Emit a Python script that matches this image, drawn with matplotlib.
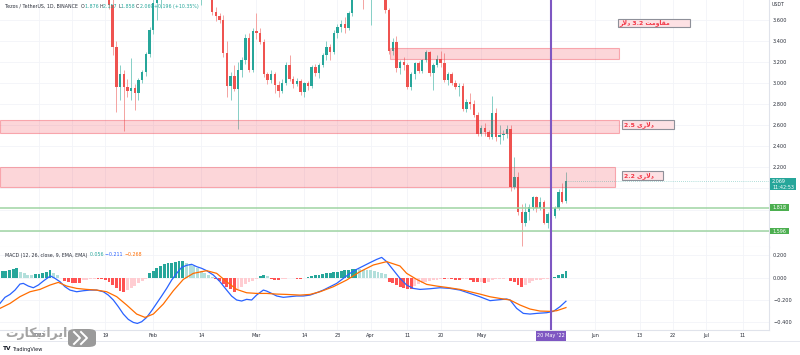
import matplotlib
matplotlib.use("Agg")
import matplotlib.pyplot as plt
from matplotlib.patches import Rectangle, FancyBboxPatch
from matplotlib.ticker import FuncFormatter
import numpy as np
import pandas as pd

plt.rcParams['font.family'] = ['DejaVu Sans']

# ---------------- data ----------------
base_date = pd.Timestamp("2022-01-01")
candle_start = "2022-01-20"
opens = [4.12, 3.74, 3.34, 2.96, 3.08, 2.96, 2.92, 2.95, 2.90, 3.03, 3.10, 3.27,
         3.50, 3.76, 3.93, 3.98, 4.30, 4.38, 4.45, 4.62, 4.40, 4.48, 4.15, 3.95, 3.98, 3.92,
         4.05, 4.25, 4.12, 3.67, 3.63, 3.60, 3.28, 2.97, 3.07, 2.94, 3.12, 3.22, 3.43, 3.12,
         3.49, 3.47, 3.39, 3.08, 3.03, 3.08, 2.98, 2.92, 3.00, 3.17, 3.04, 2.99, 3.02, 2.91,
         3.00, 2.97, 3.15, 3.09, 3.17, 3.26, 3.34, 3.29, 3.47, 3.53, 3.56, 3.52, 3.66, 3.95,
         4.20, 4.38, 4.30,
         4.05, 4.25, 4.30, 4.32, 4.10, 3.69, 3.30, 3.39, 3.14, 3.20, 3.17, 2.96, 3.08, 3.19,
         3.11, 3.22, 3.29, 3.09, 3.17, 3.23, 3.19, 3.03, 3.08, 3.00, 2.96, 2.97, 2.75, 2.82,
         2.80, 2.70,
         2.52, 2.57, 2.53, 2.49, 2.71, 2.49, 2.51, 2.52, 2.56, 2.01, 2.11, 1.78, 1.67, 1.78,
         1.82, 1.92, 1.81, 1.87, 1.675, 1.757, 1.738, 1.817, 1.969, 1.876]
highs = [4.22, 3.80, 3.40, 3.17, 3.12, 3.04, 3.24, 2.99, 3.05, 3.12, 3.29, 3.53,
         3.84, 4.02, 4.05, 4.35, 4.45, 4.50, 4.70, 4.68, 4.52, 4.60, 4.25, 4.05, 4.05, 4.10,
         4.30, 4.28, 4.18, 3.72, 3.66, 3.64, 3.40, 3.10, 3.17, 3.20, 3.25, 3.46, 3.47, 3.52,
         3.66, 3.52, 3.42, 3.10, 3.12, 3.10, 3.02, 3.04, 3.20, 3.26, 3.07, 3.05, 3.04, 3.01,
         3.02, 3.17, 3.18, 3.19, 3.28, 3.40, 3.37, 3.50, 3.56, 3.60, 3.62, 3.68, 3.98, 4.30,
         4.45, 4.50, 4.40,
         4.30, 4.45, 4.40, 4.35, 4.20, 3.71, 3.43, 3.44, 3.22, 3.25, 3.19, 3.10, 3.20, 3.21,
         3.23, 3.31, 3.30, 3.19, 3.26, 3.30, 3.28, 3.10, 3.10, 3.03, 3.00, 3.00, 2.85, 2.90,
         2.84, 2.72,
         2.60, 2.62, 2.55, 2.88, 2.76, 2.60, 2.55, 2.60, 2.60, 2.30, 2.16, 1.85, 1.86, 1.85,
         1.93, 1.93, 1.92, 1.89, 1.78, 1.82, 1.83, 1.99, 2.05, 2.157]
lows = [3.70, 3.26, 2.72, 2.84, 2.54, 2.87, 2.84, 2.74, 2.84, 3.00, 3.07, 3.25,
        3.46, 3.60, 3.71, 3.90, 4.20, 4.28, 4.40, 4.30, 4.32, 4.10, 3.88, 3.85, 3.86, 3.74,
        4.00, 4.02, 3.64, 3.59, 3.57, 3.25, 2.87, 2.84, 2.92, 2.56, 3.06, 3.18, 3.10, 3.10,
        3.42, 3.37, 3.06, 2.99, 3.00, 2.90, 2.87, 2.90, 2.98, 3.02, 2.95, 2.97, 2.89, 2.87,
        2.93, 2.95, 3.07, 3.05, 3.15, 3.22, 3.22, 3.27, 3.43, 3.48, 3.47, 3.50, 3.63, 3.90,
        4.15, 3.70, 3.95,
        3.55, 4.15, 4.20, 4.00, 3.66, 3.27, 3.26, 3.10, 3.08, 3.12, 2.94, 2.93, 3.04, 3.09,
        3.09, 3.20, 3.07, 2.93, 3.15, 3.15, 3.01, 2.98, 2.98, 2.94, 2.88, 2.73, 2.72, 2.75,
        2.68, 2.50,
        2.50, 2.50, 2.47, 2.47, 2.45, 2.42, 2.46, 2.48, 1.98, 1.99, 1.75, 1.45, 1.64, 1.70,
        1.80, 1.78, 1.80, 1.66, 1.62, 1.67, 1.72, 1.80, 1.86, 1.858]
closes = [3.74, 3.34, 2.96, 3.08, 2.96, 2.92, 2.95, 2.90, 3.03, 3.10, 3.27, 3.50,
          3.76, 3.93, 3.98, 4.30, 4.38, 4.45, 4.62, 4.40, 4.48, 4.15, 3.95, 3.98, 3.92, 4.05,
          4.25, 4.12, 3.67, 3.63, 3.60, 3.28, 2.97, 3.07, 2.94, 3.12, 3.22, 3.43, 3.12, 3.49,
          3.47, 3.39, 3.08, 3.03, 3.08, 2.98, 2.92, 3.00, 3.17, 3.04, 2.99, 3.02, 2.91, 3.00,
          2.97, 3.15, 3.09, 3.17, 3.26, 3.34, 3.29, 3.47, 3.53, 3.56, 3.52, 3.66, 3.95, 4.20,
          4.38, 4.30, 4.05,
          4.25, 4.30, 4.32, 4.10, 3.69, 3.30, 3.39, 3.14, 3.20, 3.17, 2.96, 3.08, 3.19, 3.11,
          3.22, 3.29, 3.09, 3.17, 3.23, 3.19, 3.03, 3.08, 3.00, 2.96, 2.97, 2.75, 2.82, 2.80,
          2.70, 2.52,
          2.57, 2.53, 2.49, 2.71, 2.49, 2.51, 2.52, 2.56, 2.01, 2.11, 1.78, 1.67, 1.78, 1.82,
          1.92, 1.81, 1.87, 1.675, 1.757, 1.738, 1.817, 1.969, 1.873, 2.069]

hist_start = "2021-12-22"
hist_vals = [0.060, 0.063, 0.066, 0.075, 0.084, 0.054, 0.039, 0.027, 0.021, 0.030,
             0.036, 0.039, 0.048, 0.072, 0.045, 0.024, -0.006, -0.027, -0.036, -0.045,
             -0.048, -0.049, -0.025, -0.018, -0.015, -0.010, -0.012, -0.013, -0.020, -0.036,
             -0.066, -0.096, -0.117, -0.126, -0.111, -0.096, -0.075, -0.051, -0.033, -0.012,
             0.039, 0.063, 0.084, 0.105, 0.120, 0.129, 0.135, 0.141, 0.149, 0.152,
             0.135, 0.123, 0.105, 0.084, 0.063, 0.039, 0.021, 0.009, -0.015, -0.033,
             -0.057, -0.081, -0.105, -0.126, -0.105, -0.081, -0.060, -0.042, -0.027, -0.009,
             0.018, 0.024, 0.015, -0.012, -0.018, -0.021, -0.012, -0.009, -0.006, -0.003,
             -0.009, -0.012, -0.006, 0.006, 0.015, 0.021, 0.027, 0.033, 0.039, 0.045,
             0.051, 0.054, 0.060, 0.066, 0.072, 0.075, 0.081, 0.075, 0.072, 0.069,
             0.066, 0.060, 0.054, 0.045, 0.030, -0.036, -0.051, -0.066, -0.081, -0.090,
             -0.099, -0.100, -0.075, -0.060, -0.048, -0.039, -0.030, -0.024, -0.018, -0.012,
             -0.015, -0.009, -0.015, -0.018, -0.021, -0.015, -0.009, -0.024, -0.036, -0.042,
             -0.039, -0.045, -0.036, -0.021, -0.015, -0.012, -0.009, -0.006, -0.027, -0.039,
             -0.063, -0.081, -0.063, -0.045, -0.033, -0.024, -0.018, -0.015, -0.009, -0.003,
             0.009, 0.021, 0.030, 0.056]

macd_days = [-10.58, -9.23, -7.87, -6.51, -5.16, -4.25, -2.89, -1.54, -0.18, 1.18, 2.53, 3.17,
             4.34, 5.70, 7.06, 8.41, 10.22, 12.03, 13.84, 15.65, 17.46, 18.81, 20.17, 21.53,
             22.89, 24.24, 25.60, 26.69, 27.86, 29.22, 30.57, 31.93, 33.29, 34.64, 36.00,
             37.36, 38.72, 40.07, 41.43, 42.79, 44.14, 45.50, 47.31, 49.12, 50.93, 52.28,
             53.64, 55.00, 56.35, 57.71, 59.07, 60.88, 61.78, 63.14, 64.50, 66.30, 68.11,
             69.92, 71.73, 73.54, 75.35, 77.16, 78.97, 80.78, 82.59, 84.40, 86.21, 88.02,
             89.82, 91.63, 92.99, 94.35, 96.15, 97.96, 99.77, 101.58, 103.39, 106.11, 108.82,
             111.53, 114.25, 116.96, 119.67, 122.39, 124.20, 126.91, 127.82, 129.62, 131.43,
             133.24, 135.05, 137.77, 139.58, 141.38, 143.0]
macd_vals = [-0.230, -0.176, -0.150, -0.111, -0.057, -0.051, -0.075, -0.090, -0.066, -0.030,
             0.003, 0.015, -0.006, -0.036, -0.081, -0.111, -0.126, -0.117, -0.111, -0.111,
             -0.126, -0.156, -0.200, -0.260, -0.326, -0.374, -0.401, -0.410, -0.395, -0.356,
             -0.296, -0.230, -0.164, -0.096, -0.021, 0.039, 0.093, 0.111, 0.120, 0.099,
             0.084, 0.063, 0.024, -0.036, -0.111, -0.165, -0.200, -0.209, -0.194, -0.200,
             -0.155, -0.111, -0.120, -0.141, -0.164, -0.176, -0.170, -0.164, -0.164, -0.156,
             -0.135, -0.111, -0.081, -0.051, -0.006, 0.039, 0.075, 0.105, 0.135, 0.164,
             0.182, 0.144, 0.069, -0.006, -0.066, -0.096, -0.105, -0.099, -0.090, -0.096,
             -0.111, -0.141, -0.171, -0.206, -0.200, -0.191, -0.200, -0.275, -0.320, -0.326,
             -0.320, -0.314, -0.302, -0.260, -0.211]
signal_days = [-10.58, -7.87, -5.16, -2.44, 0.27, 2.99, 5.25, 7.51, 10.22, 12.94, 15.65, 18.36,
               21.08, 23.79, 26.50, 28.77, 31.03, 33.74, 36.45, 39.17, 41.88, 45.50, 48.21,
               50.93, 53.64, 56.35, 59.07, 61.78, 64.50, 67.21, 70.83, 73.54, 76.25, 79.87,
               83.49, 87.11, 90.73, 94.35, 97.96, 99.77, 102.49, 105.20, 107.92, 110.63,
               114.25, 116.96, 119.67, 122.39, 125.10, 127.82, 130.53, 133.24, 135.95,
               138.67, 140.48, 143.0]
signal_vals = [-0.275, -0.231, -0.170, -0.126, -0.105, -0.066, -0.042, -0.075, -0.096, -0.105,
               -0.111, -0.126, -0.170, -0.245, -0.326, -0.356, -0.326, -0.236, -0.117, -0.015,
               0.039, 0.063, 0.039, -0.036, -0.105, -0.135, -0.141, -0.141, -0.147, -0.150,
               -0.156, -0.150, -0.126, -0.081, -0.021, 0.054, 0.114, 0.144, 0.105, 0.039,
               -0.015, -0.060, -0.075, -0.087, -0.105, -0.126, -0.147, -0.171, -0.186, -0.200,
               -0.245, -0.281, -0.299, -0.302, -0.296, -0.268]

zone_starts = [95.3, -10.6, -10.6]
zone_ends = [157.4, 157.4, 156.3]
zone_lows = [3.224, 2.528, 2.016]
zone_highs = [3.334, 2.648, 2.200]
# Persian labels, written in visual (display) order with presentation forms
zone_labels = ["ﺭﻻﺩ 3.2 ﺖﻣﻭﺎﻘﻣ", "2.5 یﺭﻻﺩ", "2.2 یﺭﻻﺩ"]
label_x0 = [157.1, 158.2, 158.2]
label_x1 = [176.7, 172.3, 169.3]
label_lows = [3.530, 2.563, 2.080]
label_highs = [3.606, 2.648, 2.165]

support_levels = [1.818, 1.596]
last_price = 2.069
cursor_date = "2022-05-20"

price_ticks = [2.2, 2.4, 2.6, 2.8, 3.0, 3.2, 3.4, 3.6]
price_grid = [1.6, 1.8, 2.0, 2.2, 2.4, 2.6, 2.8, 3.0, 3.2, 3.4, 3.6]
macd_ticks = [0.2, 0.0, -0.2, -0.4]
time_tick_dates = ["2022-01-01", "2022-01-10", "2022-01-19", "2022-02-01", "2022-02-14",
                   "2022-03-01", "2022-03-14", "2022-03-23", "2022-04-01", "2022-04-11",
                   "2022-04-20", "2022-05-01", "2022-06-01", "2022-06-13", "2022-06-22",
                   "2022-07-01", "2022-07-11"]
time_tick_labels = ["2022", "10", "19", "Feb", "14", "Mar", "14", "23", "Apr", "11", "20",
                    "May", "Jun", "13", "22", "Jul", "11"]

legend_title = "Tezos / TetherUS, 1D, BINANCE"
legend_ohlc = [("O", "1.876"), ("H", "2.157"), ("L", "1.858"), ("C", "2.069")]
legend_change = "+0.196 (+10.35%)"
macd_title = "MACD (12, 26, close, 9, EMA, EMA)"
macd_legend_vals = ["0.056", "\u22120.211", "\u22120.268"]
countdown = "11:42:53"
watermark = "ﺕﺭﺎﻜﻴﻧﺍﺮﻳﺍ"

# ---------------- helpers ----------------
def dnum(s):
    return (pd.Timestamp(s) - base_date).days

W, H = 800, 355
UP, DN = "#26a69a", "#ef5350"
UPW, DNW = "#86cfc6", "#f4a3a1"
TXT = "#2a2e39"
GRID = "#f2f4f8"
BORDER = "#e0e3eb"

fig = plt.figure(figsize=(W / 100, H / 100), dpi=100)
fig.patch.set_facecolor("white")

def fx(px):
    return px / W

def fy(py):
    return 1 - py / H

SEP, BOT, RIGHT = 247, 330, 769
ax = fig.add_axes([0, fy(SEP), fx(RIGHT), SEP / H])
axm = fig.add_axes([0, fy(BOT), fx(RIGHT), (BOT - SEP) / H], sharex=ax)

XMIN, XMAX = -10.58, 198.1
ax.set_xlim(XMIN, XMAX)
ax.set_ylim(1.4446, 3.7858)
axm.set_ylim(-0.469, 0.2753)

tick_x = [dnum(d) for d in time_tick_dates]

for a in (ax, axm):
    a.set_facecolor("white")
    for s in a.spines.values():
        s.set_visible(False)
    a.spines["right"].set_visible(True)
    a.spines["right"].set_color(BORDER)
    a.spines["right"].set_linewidth(0.8)
    a.spines["bottom"].set_visible(True)
    a.spines["bottom"].set_color(BORDER)
    a.spines["bottom"].set_linewidth(0.8)
    a.yaxis.tick_right()
    a.tick_params(axis="y", length=0, labelsize=3.6, pad=2.9, labelcolor=TXT)
    a.tick_params(axis="x", length=0)
    for xv in tick_x:
        a.axvline(xv, color=GRID, lw=0.6, zorder=0)

for pv in price_grid:
    ax.axhline(pv, color=GRID, lw=0.6, zorder=0)
for mv in macd_ticks:
    axm.axhline(mv, color=GRID, lw=0.6, zorder=0)

fmt = FuncFormatter(lambda v, p: f"{v:.3f}".replace("-", "\u2212"))
ax.set_yticks(price_ticks)
ax.yaxis.set_major_formatter(fmt)
axm.set_yticks(macd_ticks)
axm.yaxis.set_major_formatter(fmt)
plt.setp(ax.get_xticklabels(), visible=False)
axm.set_xticks(tick_x)
axm.set_xticklabels(time_tick_labels)
axm.tick_params(axis="x", labelsize=3.6, pad=2.2, labelcolor=TXT)

# ---------------- candles ----------------
cx = np.arange(len(opens)) + dnum(candle_start)
o = np.array(opens); h = np.array(highs); l = np.array(lows); c = np.array(closes)
up = c >= o
ax.vlines(cx, l, h, colors=np.where(up, UPW, DNW), lw=0.7, zorder=3)
body_h = np.maximum(np.abs(c - o), 0.006)
ax.bar(cx, body_h, bottom=np.minimum(o, c), width=0.66,
       color=np.where(up, UP, DN), linewidth=0, zorder=3)

# ---------------- zones, levels ----------------
for x0, x1, lo, hi in zip(zone_starts, zone_ends, zone_lows, zone_highs):
    ax.add_patch(Rectangle((x0, lo), x1 - x0, hi - lo, facecolor=(0.949, 0.212, 0.271, 0.2),
                           edgecolor=(0.949, 0.212, 0.271, 0.38), lw=0.8, zorder=4))
for txt, x0, x1, lo, hi in zip(zone_labels, label_x0, label_x1, label_lows, label_highs):
    ax.add_patch(Rectangle((x0, lo), x1 - x0, hi - lo, facecolor="#fde1e4",
                           edgecolor="#8e9099", lw=0.8, zorder=6))
    ax.text(x0 + 0.5, (lo + hi) / 2, txt, ha="left", va="center", fontsize=4.4,
            fontweight="bold", color="#f23645", zorder=7)

for lv in support_levels:
    ax.axhline(lv, color="#9fd4a3", lw=1.1, zorder=5)
ax.axhline(last_price, xmin=(cx[-1] - XMIN) / (XMAX - XMIN), color=UP, lw=0.5,
           ls=(0, (1, 2)), alpha=0.7, zorder=5)

cur = dnum(cursor_date)
ax.axvline(cur, color="#7e57c2", lw=1.5, zorder=8)
axm.axvline(cur, color="#7e57c2", lw=1.5, zorder=8)

# ---------------- MACD ----------------
hx = np.arange(len(hist_vals)) + dnum(hist_start)
hv = np.array(hist_vals)
cols = []
for i, v in enumerate(hv):
    prev = hv[i - 1] if i > 0 else v - 1e-6 * np.sign(v)
    if v >= 0:
        cols.append("#26a69a" if v >= prev else "#b2dfdb")
    else:
        cols.append("#ff5252" if v <= prev else "#ffcdd2")
axm.bar(hx, hv, width=0.78, color=cols, linewidth=0, zorder=2)
axm.plot(macd_days, macd_vals, color="#2962ff", lw=0.9, zorder=3)
axm.plot(signal_days, signal_vals, color="#ff6d00", lw=0.9, zorder=3)

# ---------------- axis labels / boxes ----------------
fig.canvas.draw()
renderer = fig.canvas.get_renderer()

def data_ypx(a, val):
    return H - a.transData.transform((0, val))[1]

def data_xpx(a, val):
    return a.transData.transform((val, 0))[0]

def fig_box(x, y, w, hgt, color, z=10):
    fig.add_artist(Rectangle((fx(x), fy(y + hgt)), w / W, hgt / H, transform=fig.transFigure,
                             facecolor=color, edgecolor="none", zorder=z))

# last price box
yl = data_ypx(ax, last_price)
fig_box(769.5, yl - 3.5, 26, 12, UP)
fig.text(fx(772), fy(yl), f"{last_price:.3f}", fontsize=3.5, color="white", va="center", zorder=11)
fig.text(fx(772), fy(yl + 6), countdown, fontsize=3.5, color="white", va="center", zorder=11)
for lv in support_levels:
    ys = data_ypx(ax, lv)
    fig_box(769.5, ys - 3.2, 19, 6.4, "#4caf50")
    fig.text(fx(772.5), fy(ys), f"{lv:.3f}", fontsize=3.5, color="white", va="center", zorder=11)

fig.text(fx(772), fy(5), "USDT", fontsize=3.4, color=TXT, va="center")

# cursor time label
xc = data_xpx(axm, cur)
fig_box(xc - 15, 331, 30, 9.5, "#7e57c2")
fig.text(fx(xc), fy(335.8), "20 May '22", fontsize=3.6, color="white", ha="center",
         va="center", zorder=11)

# footer line
fig.add_artist(plt.Line2D([0, 1], [fy(341), fy(341)], transform=fig.transFigure,
                          color=BORDER, lw=0.6))

def seq_text(x, y, parts, fs):
    for s, col in parts:
        t = fig.text(fx(x), fy(y), s, fontsize=fs, color=col, ha="left", va="center", zorder=12)
        bb = t.get_window_extent(renderer=renderer)
        x = bb.x1 + (1.2 if s.endswith(" ") is False and len(s) > 1 else 0)

parts = [(legend_title + "  ", TXT)]
for k, v in legend_ohlc:
    parts += [(k, TXT), (v + " ", UP)]
parts += [(legend_change, UP)]
seq_text(5, 6.5, parts, 3.4)

seq_text(5, 255, [(macd_title + "  ", TXT), (macd_legend_vals[0] + " ", "#26a69a"),
                  (macd_legend_vals[1] + " ", "#2962ff"), (macd_legend_vals[2], "#ff6d00")], 3.4)

# watermark + logo
fig.text(fx(5), fy(334), watermark, fontsize=9, color="#a3a3a3", ha="left", va="center",
         fontweight="bold", zorder=12)
fig.add_artist(FancyBboxPatch((fx(68), fy(347)), 28 / W, 18 / H,
                              boxstyle="round,pad=0.0,rounding_size=0.01",
                              transform=fig.transFigure, facecolor="#9a9a9a",
                              edgecolor="none", zorder=12))
for dx in (0, 7):
    fig.add_artist(plt.Line2D([fx(74 + dx), fx(80 + dx), fx(74 + dx)],
                              [fy(332), fy(338), fy(344)], transform=fig.transFigure,
                              color="white", lw=1.4, zorder=13))
fig.text(fx(3), fy(349), "TV", fontsize=4.2, fontweight="bold", color="#131722",
         va="center", zorder=12)
fig.text(fx(12), fy(349), "TradingView", fontsize=3.6, color="#131722", va="center", zorder=12)

fig.savefig("out.png", dpi=100, facecolor="white")
